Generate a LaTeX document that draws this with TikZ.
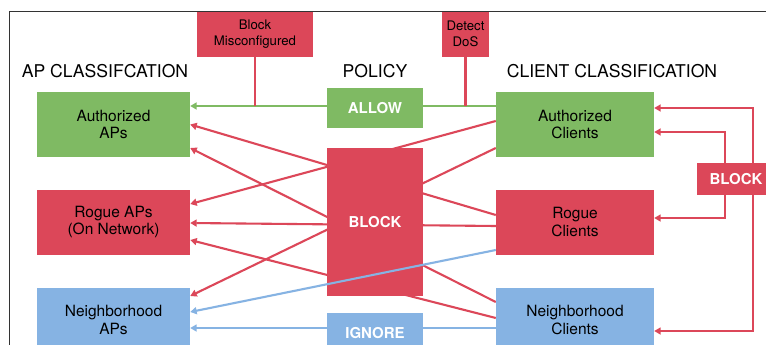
\documentclass[tikz,border=0pt]{standalone}
\usepackage{fontspec}
\setmainfont{TeX Gyre Heros}
\usetikzlibrary{arrows.meta}
\definecolor{cgreen}{HTML}{7FBA63}
\definecolor{cred}{HTML}{DC4759}
\definecolor{cblue}{HTML}{86B3E3}
\definecolor{cframe}{HTML}{333333}
\begin{document}
\begin{tikzpicture}[x=1pt,y=-1pt,
  box/.style={rectangle, draw=none, align=center, inner sep=0pt, text=black,
    font=\fontsize{15.5}{17.7}\selectfont},
  smallbox/.style={box, font=\fontsize{13.2}{16}\selectfont},
  polbox/.style={box, text=white, font=\fontsize{15}{17.7}\selectfont\bfseries},
  classbox/.style={box, minimum width=153pt, minimum height=65pt},
  clientbox/.style={box, minimum width=158pt, minimum height=65pt},
  head/.style={inner sep=0pt, font=\fontsize{17.6}{20}\selectfont},
  conn/.style={line width=2.1pt},
  arr/.style={conn, -{Triangle[length=6.5pt,width=7pt]}},
  framel/.style={draw=cframe, line width=0.9pt}
]
\useasboundingbox (0,0) rectangle (766,345);
\clip (0,0) rectangle (766,345);
\fill[white] (0,0) rectangle (766,345);

% headings
\node[head] (hap) at (105,71) {AP CLASSIFCATION};
\node[head] (hpol) at (375,71) {POLICY};
\node[head] (hcl) at (612,71) {CLIENT CLASSIFICATION};

% boxes (placed first for anchors, drawn later via fill)
\path
  node[classbox] (aap) at (113.5,124.5) {}
  node[classbox] (rap) at (113.5,222) {}
  node[classbox] (nap) at (113.5,320) {}
  node[clientbox] (acl) at (575,124.5) {}
  node[clientbox] (rcl) at (575,222) {}
  node[clientbox] (ncl) at (575,320) {}
  node[box, minimum width=96pt, minimum height=40pt] (allow) at (375,108) {}
  node[box, minimum width=96pt, minimum height=148pt] (block) at (375,222) {}
  node[box, minimum width=96pt, minimum height=40pt] (ignore) at (375,332) {}
  node[box, minimum width=116pt, minimum height=46pt] (bm) at (255,34) {}
  node[box, minimum width=47pt, minimum height=46pt] (dd) at (465.5,34) {}
  node[box, minimum width=78pt, minimum height=32pt] (rb) at (736,179) {};

% red connectors client -> AP
\draw[arr, cred] ([yshift=3.5pt]acl.west) -- ([yshift=18pt]rap.east);
\draw[arr, cred] ([yshift=-23.5pt]acl.west) -- ([yshift=24pt]nap.east);
\draw[arr, cred] ([yshift=7pt]rcl.west) -- (aap.east);
\draw[arr, cred] ([yshift=-4pt]rcl.west) -- ([yshift=-1pt]rap.east);
\draw[arr, cred] ([yshift=18pt]ncl.west) -- ([yshift=-23.5pt]aap.east);
\draw[arr, cred] ([yshift=2pt]ncl.west) -- ([yshift=-18pt]rap.east);

% allow / ignore
\draw[arr, cgreen] ([yshift=18.5pt]acl.west) -- ([yshift=18.5pt]aap.east);
\draw[arr, cblue] ([yshift=-8pt]ncl.west) -- ([yshift=-8pt]nap.east);
\coordinate (jbm) at (bm.south |- allow.center);
\coordinate (jdd) at (dd.south |- allow.center);
\draw[conn, cred] (bm.south) -- ([yshift=2pt]jbm);
\draw[conn, cred] (dd.south) -- ([yshift=2pt]jdd);

% right-hand BLOCK connectors
\draw[arr, cred] ([xshift=17pt]rb.north) |- ([yshift=16.5pt]acl.east);
\draw[arr, cred] ([xshift=17pt]rb.south) |- ([yshift=-11pt]ncl.east);
\draw[arr, cred] ([xshift=-11pt]rb.north) |- ([yshift=-7.5pt]acl.east);
\draw[arr, cred] ([xshift=-11pt]rb.south) |- ([yshift=4pt]rcl.east);

% box fills with text
\node[classbox, fill=cgreen] at (aap) {Authorized\\APs};
\node[classbox, fill=cred] at (rap) {Rogue APs\\(On Network)};
\node[classbox, fill=cblue] at (nap) {Neighborhood\\APs};
\node[clientbox, fill=cgreen] at (acl) {Authorized\\Clients};
\node[clientbox, fill=cred] at (rcl) {Rogue\\Clients};
\node[clientbox, fill=cblue] at (ncl) {Neighborhood\\Clients};
\node[polbox, fill=cgreen, minimum width=96pt, minimum height=40pt] at (allow) {ALLOW};
\node[polbox, fill=cred, minimum width=96pt, minimum height=148pt] at (block) {BLOCK};
\node[polbox, fill=cblue, minimum width=96pt, minimum height=40pt, text depth=0pt] at ([yshift=-1pt]ignore) {IGNORE};
\node[smallbox, fill=cred, minimum width=116pt, minimum height=46pt] at (bm) {Block\\Misconfigured};
\node[smallbox, fill=cred, minimum width=47pt, minimum height=46pt] at (dd) {Detect\\DoS};
\node[polbox, fill=cred, minimum width=78pt, minimum height=32pt] at (rb) {BLOCK};

% blue line drawn over BLOCK
\draw[arr, cblue] ([yshift=-28pt]rcl.west) -- ([yshift=8pt]nap.east);

% frame
\draw[framel] (9,346) -- (9,11) -- (767,11);
\end{tikzpicture}
\end{document}
